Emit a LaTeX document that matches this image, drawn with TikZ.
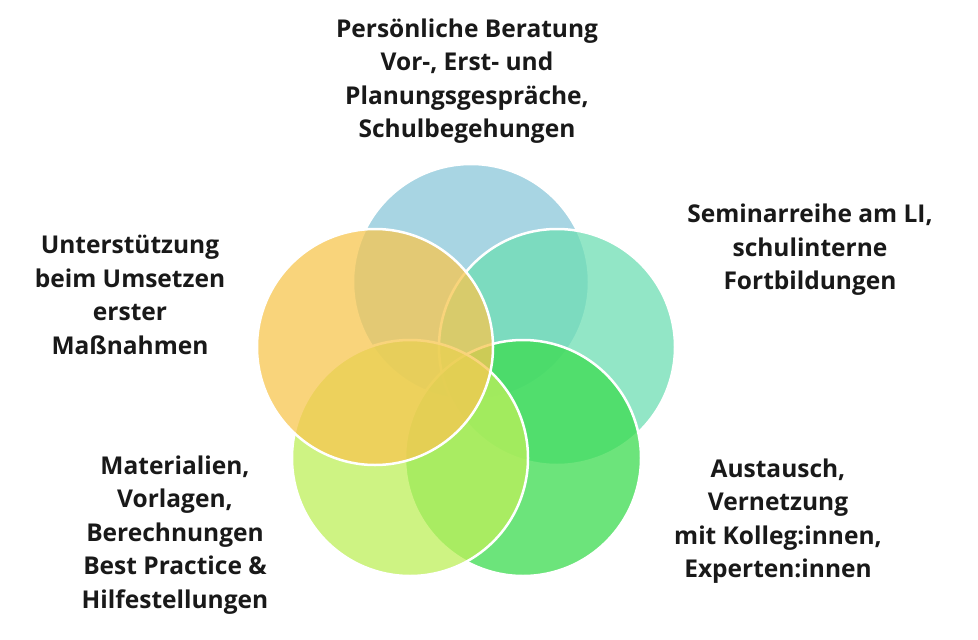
\documentclass[tikz,border=0pt]{standalone}
\usepackage{fontspec}
\setmainfont{Open Sans}
\begin{document}
\begin{tikzpicture}[x=1pt,y=-1pt,
  circ/.style={draw=white,line width=2.5pt,fill opacity=0.75},
  lab/.style={align=center,font=\fontsize{24.5}{33.5}\selectfont\bfseries,text=black!90}]
\useasboundingbox (0,0) rectangle (978,640);
\fill[white] (0,0) rectangle (978,640);
\node[circ,fill={rgb,255:red,140;green,200;blue,218},circle,minimum size=236pt] (c1) at (471,282) {};
\node[circ,fill={rgb,255:red,110;green,222;blue,180},circle,minimum size=236pt] (c2) at (557,347) {};
\node[circ,fill={rgb,255:red,60;green,220;blue,80},circle,minimum size=236pt] (c3) at (523,458) {};
\node[circ,fill={rgb,255:red,190;green,240;blue,90},circle,minimum size=236pt] (c4) at (410,458) {};
\node[circ,fill={rgb,255:red,248;green,198;blue,80},circle,minimum size=236pt] (c5) at (375,347) {};
\node[lab] (t1) at (467,81) {Persönliche Beratung\\Vor-, Erst- und\\Planungsgespräche,\\Schulbegehungen};
\node[lab] (t2) at (810,250) {Seminarreihe am LI,\\schulinterne\\Fortbildungen};
\node[lab] (t3) at (778,521) {Austausch,\\Vernetzung\\mit Kolleg:innen,\\Experten:innen};
\node[lab] (t4) at (175,535) {Materialien,\\Vorlagen,\\Berechnungen\\Best Practice \&\\Hilfestellungen};
\node[lab] (t5) at (130,295) {Unterstützung\\beim Umsetzen\\erster\\Maßnahmen};
\end{tikzpicture}
\end{document}
